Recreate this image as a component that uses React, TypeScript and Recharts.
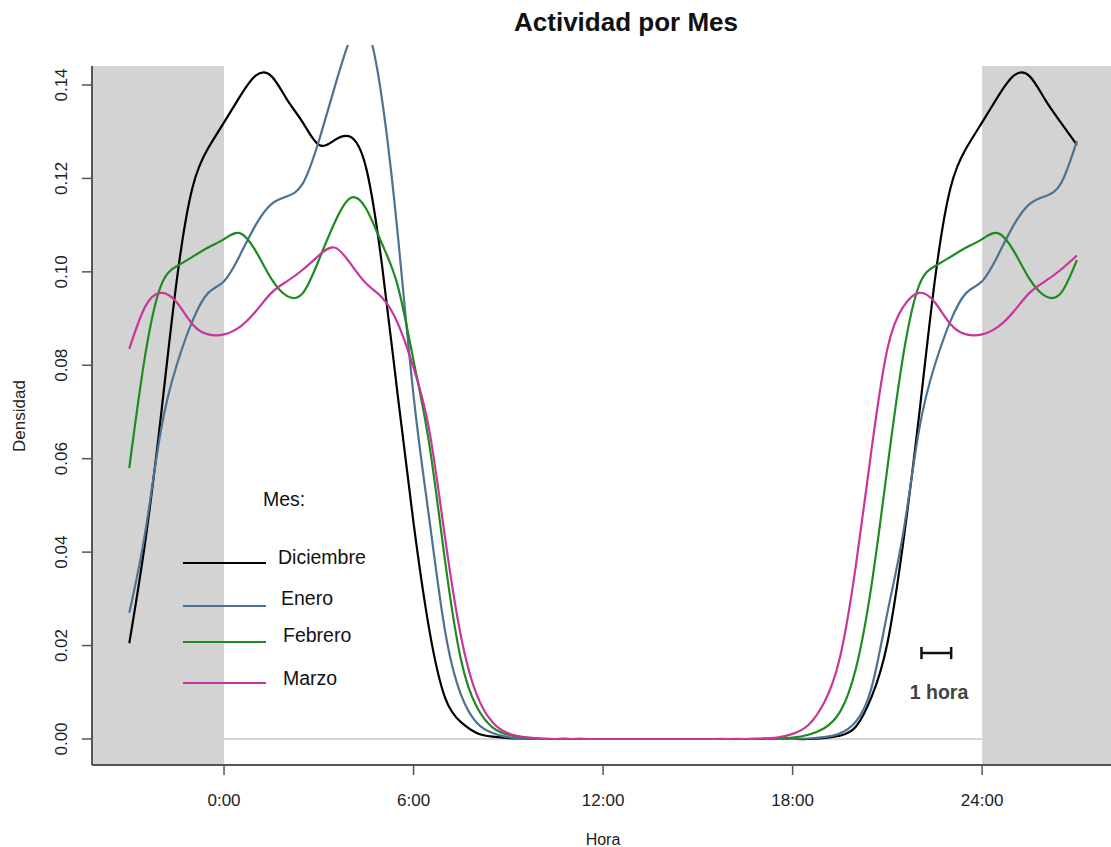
import { LineChart, Line, XAxis, YAxis, ReferenceArea, ReferenceLine } from 'recharts';

// Density per half hour, 0:00 .. 23:30 (circular, wraps around midnight)
const DICIEMBRE = [
  0.132, 0.1375, 0.142, 0.1419, 0.1368, 0.1319, 0.1272, 0.1282,
  0.1289, 0.1222, 0.1015, 0.0735, 0.0462, 0.0233, 0.0088, 0.0036,
  0.0013, 0.0005, 0.0002, 0.0001, 0, 0, 0, 0,
  0, 0, 0, 0, 0, 0, 0, 0,
  0, 0, 0, 0, 0, 0, 0.0002, 0.0007,
  0.0026, 0.009, 0.0205, 0.042, 0.069, 0.098, 0.118, 0.1265,
];
const ENERO = [
  0.098, 0.1035, 0.11, 0.1145, 0.1162, 0.119, 0.128, 0.1395,
  0.15, 0.1525, 0.137, 0.108, 0.0735, 0.047, 0.023, 0.0095,
  0.0035, 0.0013, 0.0004, 0.0001, 0, 0, 0, 0,
  0, 0, 0, 0, 0, 0, 0, 0,
  0, 0, 0, 0, 0, 0.0001, 0.0004, 0.0012,
  0.0037, 0.011, 0.027, 0.044, 0.066, 0.08, 0.0895, 0.0955,
];
const FEBRERO = [
  0.107, 0.1083, 0.1045, 0.0985, 0.0948, 0.0955, 0.1025, 0.1105,
  0.1158, 0.1135, 0.106, 0.097, 0.081, 0.063, 0.038, 0.017,
  0.0069, 0.0025, 0.0009, 0.0003, 0.0001, 0, 0, 0,
  0, 0, 0, 0, 0, 0, 0, 0,
  0, 0, 0, 0.0001, 0.0003, 0.0009, 0.0023, 0.0058,
  0.015, 0.033, 0.058, 0.082, 0.097, 0.1012, 0.1032, 0.1052,
];
const MARZO = [
  0.0866, 0.0882, 0.0915, 0.0955, 0.098, 0.1005, 0.1035, 0.1052,
  0.1018, 0.0975, 0.0945, 0.089, 0.0795, 0.066, 0.043, 0.022,
  0.0095, 0.0036, 0.0012, 0.0004, 0.0001, 0, 0, 0,
  0, 0, 0, 0, 0, 0, 0, 0,
  0, 0, 0.0001, 0.0003, 0.0011, 0.003, 0.0078, 0.0175,
  0.037, 0.062, 0.0835, 0.0925, 0.0955, 0.0935, 0.0888, 0.0866,
];

const SERIES = [
  { key: 'Diciembre', values: DICIEMBRE, color: '#000000' },
  { key: 'Enero', values: ENERO, color: '#4C7294' },
  { key: 'Febrero', values: FEBRERO, color: '#1E8B1E' },
  { key: 'Marzo', values: MARZO, color: '#C9369B' },
];

const X_TICKS = [0, 6, 12, 18, 24];
const Y_TICKS = [0, 0.02, 0.04, 0.06, 0.08, 0.1, 0.12, 0.14];

const X_MIN = -4.18;
const X_MAX = 28.08;
const Y_MIN = -0.00557;
const Y_MAX = 0.14856;
const Y_BOX_TOP = 0.14407;

// hours plotted: -3 .. 27, half hour steps
const HOURS = Array.from({ length: 61 }, (_, i) => -3 + i * 0.5);

const rows = HOURS.map((h) => {
  const idx = (((h % 24) + 24) % 24) * 2;
  const row: Record<string, number> = { hora: h };
  for (const s of SERIES) row[s.key] = s.values[idx];
  return row;
});

const FONT = '"Liberation Sans", Arial, Helvetica, sans-serif';

function YTick(props: any) {
  const { y, payload } = props;
  return (
    <text
      x={62}
      y={y}
      transform={`rotate(-90 62 ${y})`}
      textAnchor="middle"
      dominantBaseline="central"
      fontSize={17}
      fill="#222"
      fontFamily={FONT}
    >
      {Number(payload.value).toFixed(2)}
    </text>
  );
}

function XTick(props: any) {
  const { x, payload } = props;
  return (
    <text x={x} y={806} textAnchor="middle" fontSize={17} fill="#222" fontFamily={FONT}>
      {`${payload.value}:00`}
    </text>
  );
}

const LEGEND_Y = [563, 606, 642, 683];
const LEGEND_TEXT = [
  { x: 278, y: 564 },
  { x: 281, y: 605 },
  { x: 283, y: 642 },
  { x: 283, y: 685 },
];

export default function App() {
  return (
    <div
      style={{
        position: 'absolute',
        left: 0,
        top: 0,
        width: 1111,
        height: 847,
        background: '#fff',
        fontFamily: FONT,
      }}
    >
      <LineChart
        width={1111}
        height={847}
        data={rows}
        margin={{ top: 45, right: 0, bottom: 0, left: 0 }}
      >
        <XAxis
          type="number"
          dataKey="hora"
          domain={[X_MIN, X_MAX]}
          allowDataOverflow
          ticks={X_TICKS}
          height={82}
          tickSize={10}
          axisLine={{ stroke: '#555', strokeWidth: 2 }}
          tickLine={{ stroke: '#555', strokeWidth: 1.5 }}
          tick={<XTick />}
        />
        <YAxis
          type="number"
          domain={[Y_MIN, Y_MAX]}
          allowDataOverflow
          ticks={Y_TICKS}
          width={92}
          tickSize={10}
          axisLine={false}
          tickLine={{ stroke: '#555', strokeWidth: 1.5 }}
          tick={<YTick />}
        />
        <ReferenceArea
          x1={X_MIN}
          x2={0}
          y1={Y_MIN}
          y2={Y_BOX_TOP}
          fill="#D3D3D3"
          fillOpacity={1}
          stroke="none"
        />
        <ReferenceArea
          x1={24}
          x2={X_MAX}
          y1={Y_MIN}
          y2={Y_BOX_TOP}
          fill="#D3D3D3"
          fillOpacity={1}
          stroke="none"
        />
        <ReferenceLine
          segment={[
            { x: 0, y: 0 },
            { x: 24, y: 0 },
          ]}
          stroke="#C8C8C8"
          strokeWidth={1.5}
        />
        {SERIES.map((s) => (
          <Line
            key={s.key}
            type="natural"
            dataKey={s.key}
            stroke={s.color}
            strokeWidth={2.2}
            dot={false}
            activeDot={false}
            isAnimationActive={false}
          />
        ))}
        <ReferenceLine
          segment={[
            { x: X_MIN, y: Y_MIN },
            { x: X_MIN, y: Y_BOX_TOP },
          ]}
          stroke="#555"
          strokeWidth={2}
        />
        {/* 1 hora scale bar */}
        <ReferenceLine
          segment={[
            { x: 22.08, y: 0.0184 },
            { x: 23.02, y: 0.0184 },
          ]}
          stroke="#111"
          strokeWidth={2.5}
        />
        <ReferenceLine
          segment={[
            { x: 22.08, y: 0.0171 },
            { x: 22.08, y: 0.0197 },
          ]}
          stroke="#111"
          strokeWidth={2.5}
        />
        <ReferenceLine
          segment={[
            { x: 23.02, y: 0.0171 },
            { x: 23.02, y: 0.0197 },
          ]}
          stroke="#111"
          strokeWidth={2.5}
        />
      </LineChart>
      <svg
        width={1111}
        height={847}
        style={{ position: 'absolute', left: 0, top: 0, pointerEvents: 'none' }}
        fontFamily={FONT}
      >
        <text x={626} y={31} textAnchor="middle" fontSize={26} fontWeight="bold" fill="#111">
          Actividad por Mes
        </text>
        <text x={603} y={845} textAnchor="middle" fontSize={16} fill="#222">
          Hora
        </text>
        <text
          x={19}
          y={416}
          transform="rotate(-90 19 416)"
          textAnchor="middle"
          dominantBaseline="central"
          fontSize={17}
          fill="#222"
        >
          Densidad
        </text>
        <text x={263} y={506} fontSize={19.5} fill="#111">
          Mes:
        </text>
        {SERIES.map((s, i) => (
          <g key={s.key}>
            <line x1={183} x2={266} y1={LEGEND_Y[i]} y2={LEGEND_Y[i]} stroke={s.color} strokeWidth={2.2} />
            <text x={LEGEND_TEXT[i].x} y={LEGEND_TEXT[i].y} fontSize={19.5} fill="#111">
              {s.key}
            </text>
          </g>
        ))}
        <text x={939} y={699} textAnchor="middle" fontSize={19.5} fontWeight="bold" fill="#444">
          1 hora
        </text>
      </svg>
    </div>
  );
}
